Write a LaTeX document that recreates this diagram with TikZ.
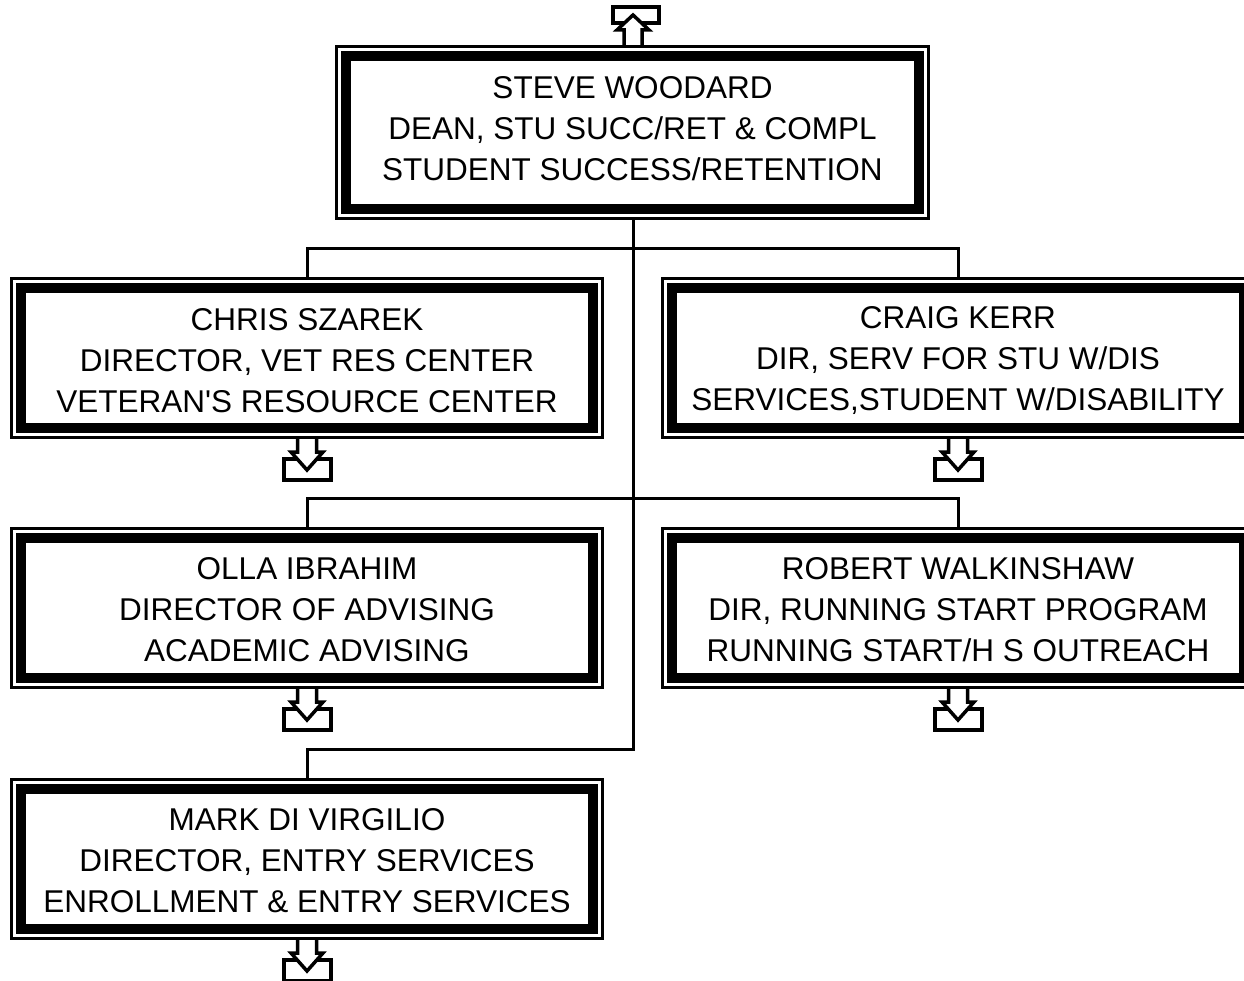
\documentclass[tikz,border=0pt]{standalone}
\usepackage{fontspec}
\setmainfont{Liberation Sans}
\tikzset{
  bigbox/.style={draw, line width=10pt, inner sep=0pt, outer sep=0pt,
    minimum width=572pt, minimum height=140pt},
  topbox/.style={bigbox, minimum width=573pt, minimum height=153pt},
  txt/.style={align=center, inner sep=0pt, font=\fontsize{31.5}{41}\selectfont},
  outerline/.style={line width=3.5pt},
  conn/.style={line width=3pt},
  icon/.style={line width=3.5pt, miter limit=10}
}
\newcommand\outerrect[1]{%
  \draw[outerline] ([shift={(-9.5pt,9.5pt)}]#1.north west) rectangle ([shift={(9.5pt,-9.5pt)}]#1.south east);}
\newcommand\downicon[2]{%
  \coordinate (#2) at ([yshift=-11pt]#1.south);
  \draw[icon] ([shift={(-23pt,-20pt)}]#2) rectangle ([shift={(24pt,-41pt)}]#2);
  \draw[icon,fill=white] ([shift={(-9.5pt,0pt)}]#2) -- ([shift={(-9.5pt,-13pt)}]#2)
    -- ([shift={(-16pt,-13pt)}]#2) -- ([shift={(0pt,-31pt)}]#2)
    -- ([shift={(16pt,-13pt)}]#2) -- ([shift={(9.5pt,-13pt)}]#2)
    -- ([shift={(9.5pt,0pt)}]#2);}
\begin{document}
\begin{tikzpicture}[x=1pt,y=-1pt]
\useasboundingbox (0,0) rectangle (1244,981);
\clip (0,0) rectangle (1244,981);
% boxes
\node[topbox] (steve) at (632.5,132.5) {};
\node[txt] (steve-t) at ([yshift=3.5pt]steve.center) {STEVE WOODARD\\DEAN, STU SUCC/RET \& COMPL\\STUDENT SUCCESS/RETENTION};
\outerrect{steve}
\node[bigbox] (chris) at (307,358) {};
\node[txt] (chris-t) at ([yshift=-2.5pt]chris.center) {CHRIS SZAREK\\DIRECTOR, VET RES CENTER\\VETERAN\textquotesingle S RESOURCE CENTER};
\outerrect{chris}
\node[bigbox] (craig) at (958,358) {};
\node[txt] (craig-t) at ([yshift=-2.5pt]craig.center) {CRAIG KERR\\DIR, SERV FOR STU W/DIS\\SERVICES,STUDENT W/DISABILITY};
\outerrect{craig}
\node[bigbox] (olla) at (307,608) {};
\node[txt] (olla-t) at ([yshift=-2pt]olla.center) {OLLA IBRAHIM\\DIRECTOR OF ADVISING\\ACADEMIC ADVISING};
\outerrect{olla}
\node[bigbox] (robert) at (958,608) {};
\node[txt] (robert-t) at ([yshift=-2pt]robert.center) {ROBERT WALKINSHAW\\DIR, RUNNING START PROGRAM\\RUNNING START/H S OUTREACH};
\outerrect{robert}
\node[bigbox] (mark) at (307,859) {};
\node[txt] (mark-t) at ([yshift=-2pt]mark.center) {MARK DI VIRGILIO\\DIRECTOR, ENTRY SERVICES\\ENROLLMENT \& ENTRY SERVICES};
\outerrect{mark}
% connectors
\coordinate (j1) at (633,249);
\coordinate (j2) at (633,498);
\coordinate (j3) at (633,749);
\draw[conn] ([yshift=-11pt]steve.south -| j1) -- (j3) -| ([yshift=11pt]mark.north);
\draw[conn] ([yshift=11pt]chris.north) |- (j1) -| ([yshift=11pt]craig.north);
\draw[conn] ([yshift=11pt]olla.north) |- (j2) -| ([yshift=11pt]robert.north);
% up icon
\coordinate (up) at ([yshift=11pt]steve.north -| j1);
\draw[icon] ([shift={(-20pt,22pt)}]up) rectangle ([shift={(26pt,38pt)}]up);
\draw[icon,fill=white] ([shift={(-9pt,0pt)}]up) -- ([shift={(-9pt,15pt)}]up)
  -- ([shift={(-16pt,15pt)}]up) -- ([shift={(0pt,30pt)}]up)
  -- ([shift={(16pt,15pt)}]up) -- ([shift={(9pt,15pt)}]up) -- ([shift={(9pt,0pt)}]up);
% down icons
\downicon{chris}{dchris}
\downicon{craig}{dcraig}
\downicon{olla}{dolla}
\downicon{robert}{drobert}
\downicon{mark}{dmark}
\end{tikzpicture}
\end{document}
